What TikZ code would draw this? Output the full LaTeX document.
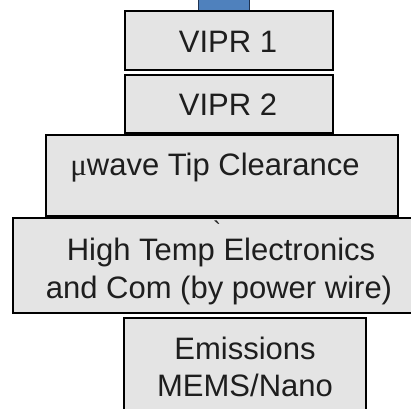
\documentclass[tikz,border=0pt]{standalone}
\usepackage{fontspec}
\setmainfont{Liberation Sans}
\newfontfamily\symfont{Liberation Serif}
\newfontfamily\rawfont{Liberation Sans}[Ligatures=TeXOff]
\definecolor{boxgrey}{RGB}{228,228,228}
\definecolor{txtgrey}{RGB}{30,30,30}
\definecolor{topblue}{RGB}{79,129,189}
\definecolor{topedge}{RGB}{30,50,80}
\begin{document}
\begin{tikzpicture}[x=1pt,y=-1pt,
  box/.style={draw=black, line width=1.4pt, fill=boxgrey, inner sep=0pt, outer sep=0pt},
  lbl/.style={font=\fontsize{31}{37}\selectfont, text=txtgrey, inner sep=0pt, anchor=base}]
\useasboundingbox (0,0) rectangle (411,408);
\clip (0,0) rectangle (411,408);
% top blue block
\node[draw=topedge, line width=1.2pt, fill=topblue, inner sep=0pt, minimum width=51pt, minimum height=20pt, anchor=south west] (top) at (198,11) {};
% boxes
\node[box, minimum width=208pt, minimum height=59pt, anchor=north west] (v1) at (125,11) {};
\node[box, minimum width=208pt, minimum height=58pt, anchor=north west] (v2) at (125,75) {};
\node[box, minimum width=352pt, minimum height=81pt, anchor=north west] (mw) at (46,135) {};
\node[box, minimum width=420pt, minimum height=95pt, anchor=north west] (ht) at (13,218) {};
\node[box, minimum width=242pt, minimum height=110pt, anchor=north west] (em) at (124,318) {};
% texts
\node[lbl] (t1) at (228,52) {VIPR 1};
\node[lbl] (t2) at (228,115) {VIPR 2};
\node[lbl] (t3) at (215,175) {{\symfont μ}wave Tip Clearance};
\node[lbl] (t4a) at (221,260) {High Temp Electronics};
\node[lbl] (t4b) at (219,298) {and Com (by power wire)};
\node[lbl] (t5a) at (245,359) {Emissions};
\node[lbl] (t5b) at (245,396) {MEMS/Nano};
\node[text=txtgrey, inner sep=0pt, anchor=center, font=\fontsize{24}{28}\rawfont] (tick) at (217,222.5) {\raisebox{-0.665em}[0.08em][0.08em]{`}};
\end{tikzpicture}
\end{document}
